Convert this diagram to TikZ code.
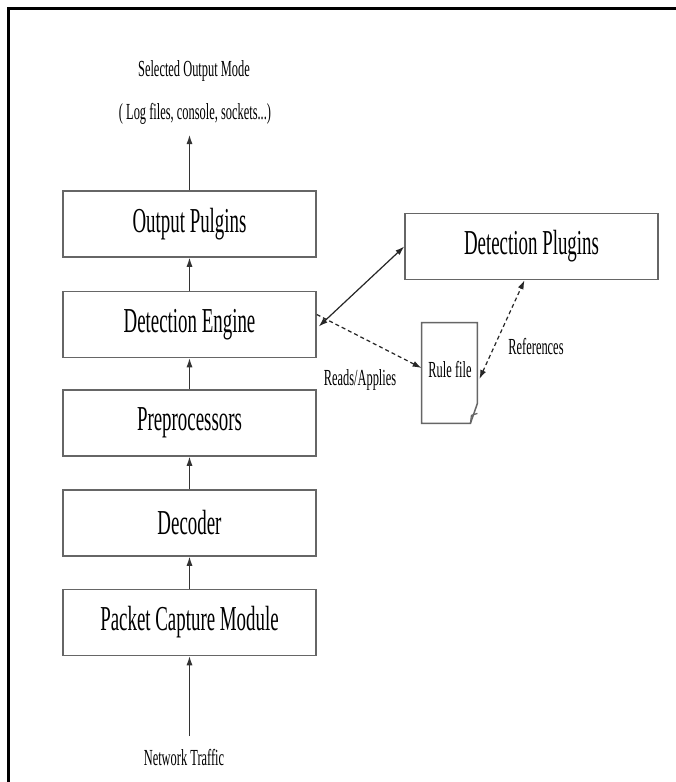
\documentclass[tikz,border=0pt]{standalone}
\usepackage{fontspec}
\setmainfont[FakeStretch=0.54]{Liberation Serif}
\usetikzlibrary{arrows.meta}
\begin{document}
\begin{tikzpicture}[x=0.5pt,y=-0.5pt,
  box/.style={draw=black!60, line width=0.75pt, minimum width=126.5pt, minimum height=33pt,
    inner sep=0pt, font=\fontsize{17.5}{20}\selectfont},
  lbl/.style={inner sep=0pt, font=\fontsize{11.5}{13}\selectfont},
  arr/.style={-{Latex[length=4.5pt,width=3pt]}, line width=0.5pt, black!80},
  darr/.style={{Latex[length=4.5pt,width=3pt]}-{Latex[length=4.5pt,width=3pt]}, line width=0.6pt, black!85},
  dsh/.style={dash pattern=on 2pt off 1.5pt, line width=0.6pt, black!85},
  tipa/.style={-{Latex[length=4.5pt,width=3pt]}},
  tipb/.style={{Latex[length=4.5pt,width=3pt]}-{Latex[length=4.5pt,width=3pt]}}]
\useasboundingbox (0,0) rectangle (675,782);
\fill[white] (0,0) rectangle (675,782);
% frame
\draw[line width=1.5pt, line cap=rect] (8,782) -- (8,8) -- (675,8);

% left column
\node[box] (out) at (189.5,224) {Output Pulgins};
\node[box] (de)  at (189.5,324.5) {Detection Engine};
\node[box] (pre) at (189.5,423) {Preprocessors};
\node[box] (dec) at (189.5,523) {Decoder};
\node[box] (pcm) at (189.5,622.5) {Packet Capture Module};

% right side
\node[box, minimum width=126.5pt] (dp) at (531.5,246.5) {Detection Plugins};
\node[lbl, minimum width=27.5pt, minimum height=50pt] (rf) at (449.5,373) {};
\node[lbl] (rftext) at (450,370) {Rule file};
\draw[black!60, line width=0.75pt]
  (rf.north west) -- (rf.north east) -- ([yshift=10pt]rf.south east)
  -- ([xshift=-3.5pt]rf.south east) -- (rf.south west) -- cycle;
\draw[black!60, line width=0.6pt]
  ([xshift=-3.5pt]rf.south east) -- ([xshift=-3pt,yshift=4pt]rf.south east) -- ([yshift=5pt]rf.south east);

% top and bottom labels
\node[lbl] (som) at (194,71) {Selected Output Mode};
\node[lbl] (lfc) at (195,114) {( Log files, console, sockets...)};
\coordinate (topend) at (189.5,135);
\node[lbl] (nt) at (184,758) {Network Traffic};
\coordinate (botstart) at (189.5,736);

% vertical arrows
\draw[arr] (out.north) -- (topend);
\draw[arr] (de.north) -- (out.south);
\draw[arr] (pre.north) -- (de.south);
\draw[arr] (dec.north) -- (pre.south);
\draw[arr] (pcm.north) -- (dec.south);
\draw[arr] (botstart) -- (pcm.south);

% detection engine <-> detection plugins
\draw[darr] ([xshift=1pt,yshift=-1pt]de.east) -- (dp.west);
% reads/applies
\draw[dsh, tipa] ([yshift=5pt]de.east) -- ([yshift=2.5pt]rf.west);
\node[lbl] (ra) at (360,380) {Reads/Applies};
% references
\draw[dsh, tipb] ([xshift=1pt,yshift=-3pt]rf.east) -- ([xshift=-3.5pt]dp.south);
\node[lbl] (refs) at (536,347) {References};
\end{tikzpicture}
\end{document}
